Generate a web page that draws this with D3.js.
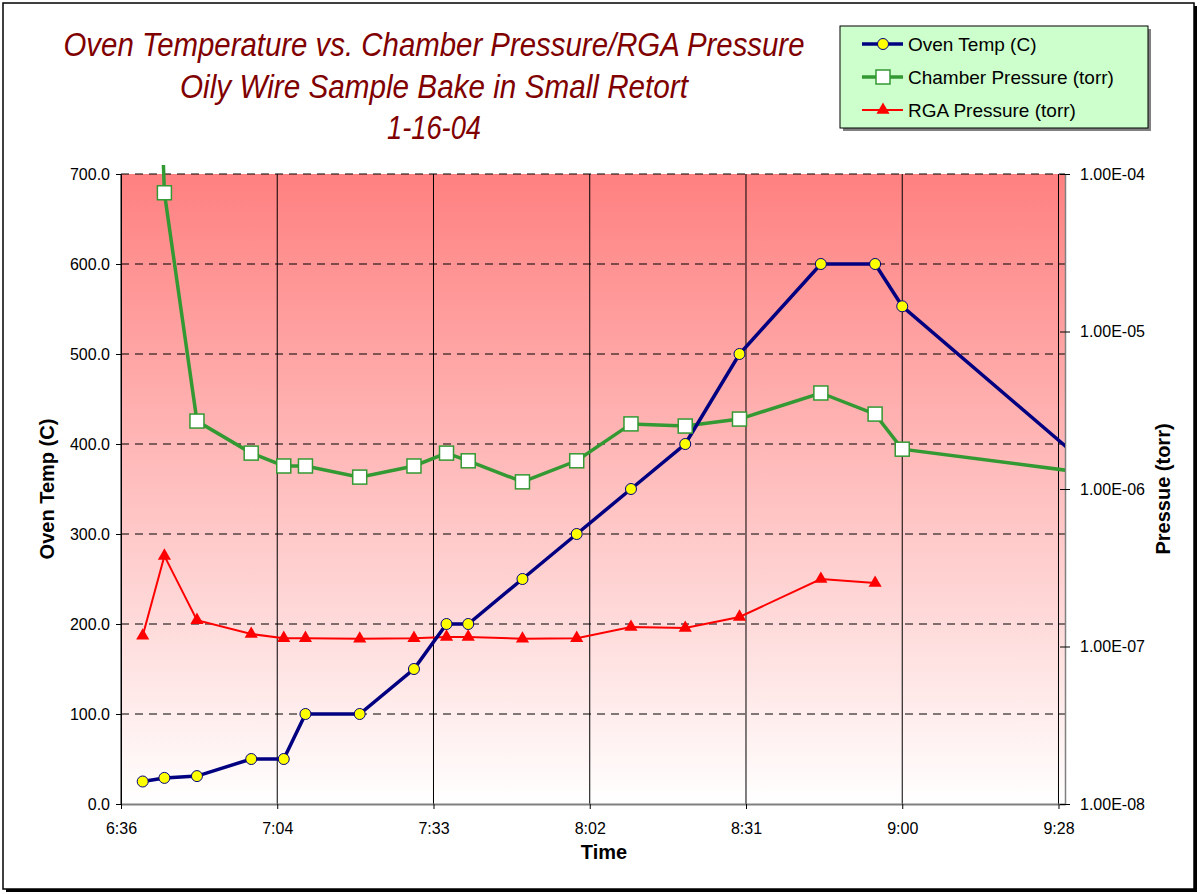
<!DOCTYPE html>
<html>
<head>
<meta charset="utf-8">
<script src="https://cdn.jsdelivr.net/npm/d3@7"></script>
<style>
  body { margin: 0; background: #fff; }
  text { font-family: "Liberation Sans", Arial, sans-serif; }
</style>
</head>
<body>
<script>
// data
var times = ["6:40","6:44","6:50","7:00","7:06","7:10","7:20","7:30","7:36","7:40",
             "7:50","8:00","8:10","8:20","8:30","8:45","8:55","9:00","10:00"];
var ovenTemp = [25, 29, 31, 50, 50, 100, 100, 150, 200, 200,
                250, 300, 350, 400, 500, 600, 600, 553, 243];
// chamber pressure, first value far off the top of the chart
var chamberPressure = [0.6, 7.6e-5, 2.7e-6, 1.69e-6, 1.40e-6, 1.40e-6, 1.19e-6, 1.40e-6, 1.69e-6, 1.51e-6,
                       1.11e-6, 1.51e-6, 2.59e-6, 2.51e-6, 2.78e-6, 4.07e-6, 2.99e-6, 1.79e-6, 9.7e-7];
var chamberShow = [false, true, true, true, true, true, true, true, true, true,
                   true, true, true, true, true, true, true, true, false];
var rgaPressure = [1.17e-7, 3.76e-7, 1.47e-7, 1.20e-7, 1.13e-7, 1.13e-7, 1.12e-7, 1.13e-7, 1.15e-7, 1.15e-7,
                   1.12e-7, 1.13e-7, 1.33e-7, 1.31e-7, 1.54e-7, 2.68e-7, 2.53e-7];
var xTicks = ["6:36:00","7:04:48","7:33:36","8:02:24","8:31:12","9:00:00","9:28:48"];
var tempTicks = [0, 100, 200, 300, 400, 500, 600, 700];
var pressTicks = [1e-8, 1e-7, 1e-6, 1e-5, 1e-4];
var titleLines = ["Oven Temperature vs. Chamber Pressure/RGA Pressure",
                  "Oily Wire Sample Bake in Small Retort",
                  "1-16-04"];
var titleWidths = [741, 508, 94];
var legendNames = ["Oven Temp (C)", "Chamber Pressure (torr)", "RGA Pressure (torr)"];

var W = 1200, H = 894;
var plot = {left: 121, right: 1065, top: 174, bottom: 804};

var parseHM = d3.timeParse("%H:%M"),
    parseHMS = d3.timeParse("%H:%M:%S"),
    fmt = d3.timeFormat("%-H:%M");

var x = d3.scaleTime()
    .domain([parseHM("6:36"), parseHM("9:30")])
    .range([plot.left, plot.right]);
var y = d3.scaleLinear().domain([0, 700]).range([plot.bottom, plot.top]);
var yp = d3.scaleLog().domain([1e-8, 1e-4]).range([plot.bottom, plot.top]);

var svg = d3.select("body").append("svg")
    .attr("width", W).attr("height", H);

var defs = svg.append("defs");
var grad = defs.append("linearGradient").attr("id", "bg")
    .attr("x1", 0).attr("y1", 0).attr("x2", 0).attr("y2", 1);
grad.append("stop").attr("offset", "0%").attr("stop-color", "#ff8080");
grad.append("stop").attr("offset", "100%").attr("stop-color", "#ffffff");
defs.append("clipPath").attr("id", "clip").append("rect")
    .attr("x", plot.left).attr("y", plot.top - 9)
    .attr("width", plot.right - plot.left).attr("height", plot.bottom - plot.top + 9);

// chart frame with shadow
svg.append("rect").attr("x", 6).attr("y", 6).attr("width", 1191).attr("height", 886).attr("fill", "#000");
svg.append("rect").attr("x", 3).attr("y", 3).attr("width", 1191).attr("height", 886)
    .attr("fill", "#fff").attr("stroke", "#000").attr("stroke-width", 1.5);

// plot background
svg.append("rect")
    .attr("x", plot.left).attr("y", plot.top)
    .attr("width", plot.right - plot.left).attr("height", plot.bottom - plot.top)
    .attr("fill", "url(#bg)");

// horizontal dashed gridlines
svg.append("g").selectAll("line").data(tempTicks.slice(1)).join("line")
    .attr("x1", plot.left).attr("x2", plot.right)
    .attr("y1", function(d) { return y(d); }).attr("y2", function(d) { return y(d); })
    .attr("stroke", "#000").attr("stroke-dasharray", "8,6");

// vertical gridlines
svg.append("g").selectAll("line").data(xTicks.slice(1)).join("line")
    .attr("x1", function(d) { return x(parseHMS(d)); }).attr("x2", function(d) { return x(parseHMS(d)); })
    .attr("y1", plot.top).attr("y2", plot.bottom)
    .attr("stroke", "#000");

// axes
var xAxis = svg.append("g")
    .attr("transform", "translate(0," + plot.bottom + ")")
    .call(d3.axisBottom(x).tickValues(xTicks.map(parseHMS)).tickFormat(fmt).tickSize(5).tickSizeOuter(0));
xAxis.select(".domain").attr("stroke", "#808080").attr("stroke-width", 2);

var yAxis = svg.append("g")
    .attr("transform", "translate(" + plot.left + ",0)")
    .call(d3.axisLeft(y).tickValues(tempTicks).tickFormat(d3.format(".1f")).tickSize(5).tickSizeOuter(0));

var ypAxis = svg.append("g")
    .attr("transform", "translate(" + plot.right + ",0)")
    .call(d3.axisRight(yp).tickValues(pressTicks).tickFormat(function(d) {
        var e = Math.round(Math.log10(d));
        return "1.00E" + (e < 0 ? "-" : "+") + String(Math.abs(e)).padStart(2, "0");
    }).tickSize(5).tickSizeOuter(0));
ypAxis.select(".domain").attr("stroke", "#808080").attr("stroke-width", 1.5);
ypAxis.selectAll(".tick line").attr("x1", -5);

[xAxis, yAxis, ypAxis].forEach(function(a) {
    a.selectAll("text").style("font-size", "16px").attr("fill", "#000")
        .style("font-family", "'Liberation Sans', Arial, sans-serif");
});
xAxis.selectAll("text").attr("dy", "1.4em");
yAxis.selectAll("text").attr("x", -11);
ypAxis.selectAll("text").attr("x", 15);

// series
var temps = times.map(function(t, i) { return {t: parseHM(t), v: ovenTemp[i]}; });
var chamber = times.map(function(t, i) { return {t: parseHM(t), v: chamberPressure[i], show: chamberShow[i]}; });
var rga = rgaPressure.map(function(v, i) { return {t: parseHM(times[i]), v: v}; });

var lines = svg.append("g").attr("clip-path", "url(#clip)");

lines.append("path").datum(rga)
    .attr("fill", "none").attr("stroke", "#ff0000").attr("stroke-width", 2)
    .attr("d", d3.line().x(function(d) { return x(d.t); }).y(function(d) { return yp(d.v); }));
lines.append("path").datum(chamber)
    .attr("fill", "none").attr("stroke", "#339933").attr("stroke-width", 3.5)
    .attr("d", d3.line().x(function(d) { return x(d.t); }).y(function(d) { return yp(d.v); }));
lines.append("path").datum(temps)
    .attr("fill", "none").attr("stroke", "#000080").attr("stroke-width", 3.5)
    .attr("d", d3.line().x(function(d) { return x(d.t); }).y(function(d) { return y(d.v); }));

var tri = d3.symbol().type(d3.symbolTriangle).size(75);

svg.append("g").selectAll("path").data(rga).join("path")
    .attr("transform", function(d) { return "translate(" + x(d.t) + "," + yp(d.v) + ")"; })
    .attr("d", tri).attr("fill", "#ff0000");
svg.append("g").selectAll("rect").data(chamber.filter(function(d) { return d.show; })).join("rect")
    .attr("x", function(d) { return x(d.t) - 7; }).attr("y", function(d) { return yp(d.v) - 7; })
    .attr("width", 14).attr("height", 14)
    .attr("fill", "#fff").attr("stroke", "#339933").attr("stroke-width", 1.5);
svg.append("g").selectAll("circle").data(temps.filter(function(d) { return d.t <= x.domain()[1]; })).join("circle")
    .attr("cx", function(d) { return x(d.t); }).attr("cy", function(d) { return y(d.v); })
    .attr("r", 5.5).attr("fill", "#ffff00").attr("stroke", "#000080").attr("stroke-width", 1);

// plot left border
svg.append("line").attr("x1", plot.left).attr("x2", plot.left)
    .attr("y1", plot.top).attr("y2", plot.bottom).attr("stroke", "#000");

// title (narrow italic look)
svg.append("g").selectAll("text").data(titleLines).join("text")
    .attr("x", 434).attr("y", function(d, i) { return 56 + i * 41.5; })
    .attr("text-anchor", "middle")
    .attr("textLength", function(d, i) { return titleWidths[i]; })
    .attr("lengthAdjust", "spacingAndGlyphs")
    .style("font-family", "'Liberation Sans Narrow', 'Arial Narrow', 'Liberation Sans', sans-serif")
    .style("font-style", "italic").style("font-size", "33px").attr("fill", "#800000")
    .text(function(d) { return d; });

// axis titles
svg.append("text").attr("x", 604).attr("y", 859).attr("text-anchor", "middle")
    .style("font-weight", "bold").style("font-size", "20px").text("Time");
svg.append("text").attr("transform", "translate(54,489) rotate(-90)").attr("text-anchor", "middle")
    .style("font-weight", "bold").style("font-size", "20px").text("Oven Temp (C)");
svg.append("text").attr("transform", "translate(1170,489) rotate(-90)").attr("text-anchor", "middle")
    .style("font-weight", "bold").style("font-size", "20px").text("Pressue (torr)");

// legend
var leg = svg.append("g");
leg.append("rect").attr("x", 843).attr("y", 29).attr("width", 308).attr("height", 102).attr("fill", "#808080");
leg.append("rect").attr("x", 840).attr("y", 26).attr("width", 308).attr("height", 102)
    .attr("fill", "#ccffcc").attr("stroke", "#000").attr("stroke-width", 1);
var legColors = ["#000080", "#339933", "#ff0000"];
var legY = [44, 77, 110];
legendNames.forEach(function(name, i) {
    leg.append("line").attr("x1", 862).attr("x2", 903).attr("y1", legY[i]).attr("y2", legY[i])
        .attr("stroke", legColors[i]).attr("stroke-width", i == 2 ? 2 : 3.5);
    leg.append("text").attr("x", 908).attr("y", legY[i] + 7).style("font-size", "19px").text(name);
});
leg.append("circle").attr("cx", 883).attr("cy", legY[0]).attr("r", 5.5)
    .attr("fill", "#ffff00").attr("stroke", "#000080");
leg.append("rect").attr("x", 876).attr("y", legY[1] - 7).attr("width", 14).attr("height", 14)
    .attr("fill", "#fff").attr("stroke", "#339933").attr("stroke-width", 1.5);
leg.append("path").attr("transform", "translate(883," + legY[2] + ")").attr("d", tri).attr("fill", "#ff0000");
</script>
</body>
</html>
